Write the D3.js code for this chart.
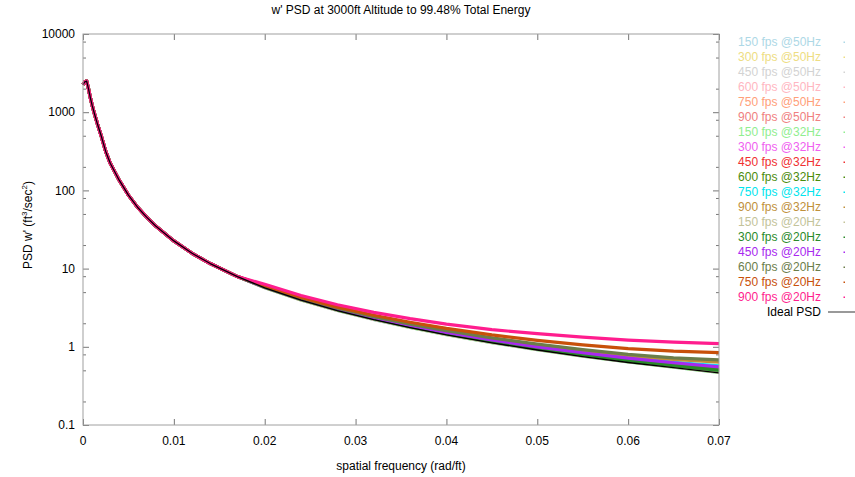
<!doctype html>
<html lang="en">
<head>
<meta charset="UTF-8" />
<title>w' PSD at 3000ft Altitude</title>
<script src="https://d3js.org/d3.v7.min.js"></script>
<style>
  html,body{margin:0;padding:0;background:#fff;}
  svg text{font-family:"Liberation Sans",Arial,Helvetica,sans-serif;font-size:12px;}
</style>
</head>
<body>
<div id="chart"></div>
<script>
/* ---------- data ---------- */
// spatial frequency samples (rad/ft), low part shared by every run, then the tail
const freqLow  = [0, 0.0002, 0.0004, 0.0006, 0.0008, 0.001, 0.0013, 0.0016, 0.002, 0.0025,
                  0.003, 0.004, 0.005, 0.006, 0.007, 0.008, 0.01, 0.012, 0.014, 0.017];
const freqTail = [0.02, 0.024, 0.028, 0.032, 0.036, 0.04, 0.045, 0.05, 0.055, 0.06, 0.065, 0.07];

// below ~0.02 rad/ft all runs sit on the ideal curve
const psdLow   = [2250, 2450, 2500, 2000, 1550, 1230, 920, 700, 500, 315,
                  222, 134, 87, 61, 45.5, 35, 22.6, 15.7, 11.6, 7.9];
const idealTail = [5.68, 3.95, 2.90, 2.22, 1.76, 1.42, 1.12, 0.91, 0.75, 0.63, 0.54, 0.465];

const runLabels = ['150 fps @50Hz','300 fps @50Hz','450 fps @50Hz','600 fps @50Hz','750 fps @50Hz','900 fps @50Hz',
                   '150 fps @32Hz','300 fps @32Hz','450 fps @32Hz','600 fps @32Hz','750 fps @32Hz','900 fps @32Hz',
                   '150 fps @20Hz','300 fps @20Hz','450 fps @20Hz','600 fps @20Hz','750 fps @20Hz','900 fps @20Hz'];

const runColors = ['#add8e6','#eedd82','#d3d3d3','#ffb6c1','#ffa07a','#f08080',
                   '#90ee90','#f060f0','#f03030','#4b8b0b','#00e5ee','#c0903a',
                   '#c3c39a','#2a8a2a','#a828f0','#6b7d4a','#c8500a','#ff1d8e'];

const runTails = [
  [5.70, 3.96, 2.91, 2.23, 1.77, 1.43, 1.13, 0.92, 0.76, 0.64, 0.55, 0.47],
  [5.72, 3.98, 2.93, 2.25, 1.78, 1.44, 1.14, 0.925, 0.765, 0.645, 0.555, 0.475],
  [5.75, 4.00, 2.95, 2.26, 1.80, 1.45, 1.15, 0.935, 0.775, 0.655, 0.565, 0.485],
  [5.78, 4.03, 2.98, 2.29, 1.82, 1.48, 1.17, 0.955, 0.79, 0.67, 0.58, 0.50],
  [5.82, 4.07, 3.01, 2.32, 1.85, 1.51, 1.20, 0.98, 0.815, 0.69, 0.60, 0.52],
  [5.86, 4.10, 3.04, 2.35, 1.88, 1.54, 1.23, 1.01, 0.845, 0.72, 0.63, 0.55],
  [5.70, 3.97, 2.92, 2.24, 1.77, 1.43, 1.13, 0.92, 0.76, 0.64, 0.55, 0.47],
  [5.74, 3.99, 2.94, 2.26, 1.79, 1.45, 1.15, 0.93, 0.77, 0.65, 0.56, 0.48],
  [5.77, 4.02, 2.97, 2.28, 1.81, 1.47, 1.17, 0.95, 0.785, 0.665, 0.575, 0.495],
  [5.82, 4.06, 3.00, 2.31, 1.84, 1.50, 1.19, 0.975, 0.81, 0.685, 0.595, 0.515],
  [5.86, 4.10, 3.04, 2.35, 1.88, 1.54, 1.23, 1.01, 0.845, 0.72, 0.635, 0.57],
  [5.92, 4.16, 3.09, 2.40, 1.93, 1.59, 1.28, 1.06, 0.90, 0.77, 0.69, 0.635],
  [5.72, 3.98, 2.93, 2.25, 1.78, 1.44, 1.14, 0.925, 0.765, 0.645, 0.555, 0.475],
  [5.78, 4.03, 2.97, 2.28, 1.81, 1.47, 1.16, 0.945, 0.785, 0.665, 0.575, 0.50],
  [5.86, 4.10, 3.04, 2.35, 1.88, 1.53, 1.22, 1.00, 0.84, 0.715, 0.625, 0.555],
  [5.95, 4.18, 3.11, 2.42, 1.95, 1.61, 1.30, 1.08, 0.92, 0.80, 0.72, 0.68],
  [6.05, 4.28, 3.22, 2.53, 2.06, 1.72, 1.42, 1.21, 1.06, 0.95, 0.88, 0.84],
  [6.30, 4.52, 3.45, 2.76, 2.29, 1.95, 1.66, 1.47, 1.33, 1.22, 1.15, 1.10]
];

const xTicks = [0, 0.01, 0.02, 0.03, 0.04, 0.05, 0.06, 0.07];
const yTicks = [0.1, 1, 10, 100, 1000, 10000];
const yMinorMult = [2, 5, 8];

/* ---------- layout ---------- */
const W = 855, H = 477;
const mL = 83, mR = 719, mT = 34, mB = 425;
const BORDER = '#a0a0a0';

const svg = d3.select('#chart').append('svg').attr('width', W).attr('height', H);

const x = d3.scaleLinear().domain([0, 0.07]).range([mL, mR]);
const y = d3.scaleLog().domain([0.1, 10000]).range([mB, mT]);

const freq = freqLow.concat(freqTail);

/* ---------- ticks (mirrored on all sides, like gnuplot) ---------- */
const gAx = svg.append('g');

const minorVals = [];
yTicks.slice(0, -1).forEach(d => yMinorMult.forEach(m => minorVals.push(d * m)));

gAx.append('g').attr('transform', `translate(${mL},0)`)
   .call(d3.axisRight(y).tickValues(yTicks).tickSize(6).tickFormat(''));
gAx.append('g').attr('transform', `translate(${mL},0)`)
   .call(d3.axisRight(y).tickValues(minorVals).tickSize(3).tickFormat(''));
gAx.append('g').attr('transform', `translate(${mR},0)`)
   .call(d3.axisLeft(y).tickValues(yTicks).tickSize(6).tickFormat(''));
gAx.append('g').attr('transform', `translate(${mR},0)`)
   .call(d3.axisLeft(y).tickValues(minorVals).tickSize(3).tickFormat(''));
gAx.append('g').attr('transform', `translate(0,${mB})`)
   .call(d3.axisTop(x).tickValues(xTicks).tickSize(6).tickFormat(''));
gAx.append('g').attr('transform', `translate(0,${mT})`)
   .call(d3.axisBottom(x).tickValues(xTicks).tickSize(6).tickFormat(''));
gAx.selectAll('path.domain').remove();
gAx.selectAll('line').attr('stroke', '#777').attr('stroke-width', 1);

/* tick labels */
svg.append('g').selectAll('text').data(yTicks).join('text')
   .attr('x', mL - 8).attr('y', d => y(d)).attr('dy', '0.35em')
   .attr('text-anchor', 'end').attr('fill', '#000')
   .text(d => d3.format('~g')(d));

svg.append('g').selectAll('text').data(xTicks).join('text')
   .attr('x', d => x(d)).attr('y', mB + 16).attr('dy', '0.35em')
   .attr('text-anchor', 'middle').attr('fill', '#000')
   .text(d => d3.format('~g')(d));

/* ---------- curves ---------- */
const line = d3.line().x(d => x(d[0])).y(d => y(d[1]));
const gPlot = svg.append('g');

runTails.forEach((tail, i) => {
  const vals = psdLow.concat(tail);
  gPlot.append('path')
       .attr('d', line(freq.map((f, k) => [f, vals[k]])))
       .attr('fill', 'none')
       .attr('stroke', runColors[i])
       .attr('stroke-width', 3.2)
       .attr('stroke-linejoin', 'round');
});

const idealVals = psdLow.concat(idealTail);
gPlot.append('path')
     .attr('d', line(freq.map((f, k) => [f, idealVals[k]])))
     .attr('fill', 'none').attr('stroke', '#000').attr('stroke-width', 1.3)
     .attr('stroke-linejoin', 'round');

/* ---------- border ---------- */
svg.append('rect')
   .attr('x', mL).attr('y', mT).attr('width', mR - mL).attr('height', mB - mT)
   .attr('fill', 'none').attr('stroke', BORDER).attr('stroke-width', 1);

/* ---------- titles ---------- */
svg.append('text').attr('x', (mL + mR) / 2).attr('y', 14)
   .attr('text-anchor', 'middle').text("w' PSD at 3000ft Altitude to 99.48% Total Energy");

svg.append('text').attr('x', (mL + mR) / 2).attr('y', 470)
   .attr('text-anchor', 'middle').text('spatial frequency (rad/ft)');

const yl = svg.append('text')
   .attr('transform', 'translate(32,225) rotate(-90)')
   .attr('text-anchor', 'middle');
yl.append('tspan').text("PSD w' (ft");
yl.append('tspan').attr('dy', -5).attr('font-size', '8px').text('3');
yl.append('tspan').attr('dy', 5).text('/sec');
yl.append('tspan').attr('dy', -5).attr('font-size', '8px').text('2');
yl.append('tspan').attr('dy', 5).text(')');

/* ---------- key ---------- */
const gKey = svg.append('g');
runLabels.forEach((lab, i) => {
  const ky = 42 + i * 15;
  gKey.append('text').attr('x', 821).attr('y', ky).attr('dy', '0.35em')
      .attr('text-anchor', 'end').attr('fill', runColors[i]).text(lab);
  gKey.append('rect').attr('x', 843.5).attr('y', ky - 0.5).attr('width', 1.5).attr('height', 1.5)
      .attr('fill', runColors[i]);
});
const kyIdeal = 42 + runLabels.length * 15;
gKey.append('text').attr('x', 821).attr('y', kyIdeal).attr('dy', '0.35em')
    .attr('text-anchor', 'end').attr('fill', '#000').text('Ideal PSD');
gKey.append('line').attr('x1', 828).attr('x2', 856).attr('y1', kyIdeal).attr('y2', kyIdeal)
    .attr('stroke', '#555').attr('stroke-width', 1.2);
</script>
</body>
</html>
